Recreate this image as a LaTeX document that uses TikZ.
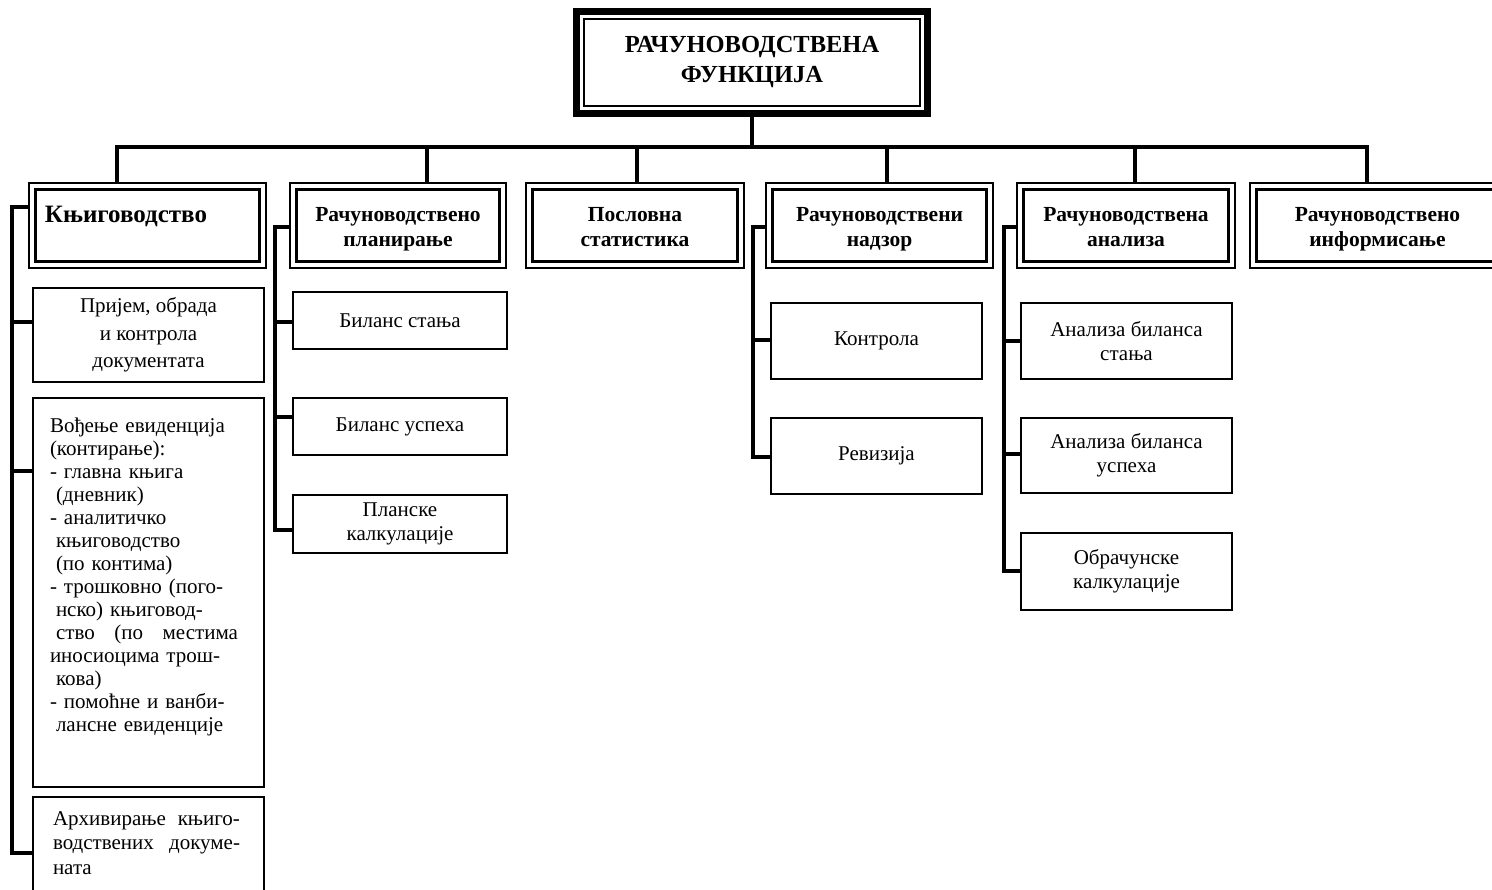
\documentclass[tikz,border=0pt]{standalone}
\usepackage{fontspec}
\setmainfont{Liberation Serif}
\newcommand{\hdrtext}[2]{\raisebox{-4pt}[\height][\depth]{\begin{tabular}{@{}c@{}}#1\\#2\end{tabular}}}
\begin{document}
\begin{tikzpicture}[x=1pt,y=-1pt,
  conn/.style={line width=3.2pt},
  titlebox/.style={draw, line width=7pt, inner sep=0pt,
    minimum width=351pt, minimum height=102pt, align=center,
    font=\fontsize{24.5}{30}\selectfont\bfseries,
    path picture={\draw[line width=1.8pt]
      ([shift={(7.5pt,-7.5pt)}]path picture bounding box.north west) rectangle
      ([shift={(-7.5pt,7.5pt)}]path picture bounding box.south east);}},
  hdr/.style={draw, line width=1.6pt, inner sep=0pt,
    minimum height=85pt, align=center,
    font=\fontsize{21.5}{25}\selectfont\bfseries,
    path picture={\draw[line width=3pt]
      ([shift={(6.5pt,-6.5pt)}]path picture bounding box.north west) rectangle
      ([shift={(-6.5pt,6.5pt)}]path picture bounding box.south east);}},
  item/.style={draw, line width=2.4pt, inner sep=0pt, align=center,
    font=\fontsize{21}{24}\selectfont},
]
\useasboundingbox (0,0) rectangle (1492,890);
\clip (0,0) rectangle (1492,890);
\fill[white] (0,0) rectangle (1492,890);

% top box
\node[titlebox] (root) at (752,62.5) {РАЧУНОВОДСТВЕНА\\ФУНКЦИЈА};

% second level
\node[hdr, minimum width=237pt, text width=205pt, align=left,
  font=\fontsize{25}{28}\selectfont\bfseries] (h1) at (147.5,225.5)
  {\raisebox{9pt}[\height][\depth]{Књиговодство}};
\node[hdr, minimum width=216pt] (h2) at (398,225.5) {\hdrtext{Рачуноводствено}{планирање}};
\node[hdr, minimum width=218pt] (h3) at (635,225.5) {\hdrtext{Пословна}{статистика}};
\node[hdr, minimum width=227pt] (h4) at (879.5,225.5) {\hdrtext{Рачуноводствени}{надзор}};
\node[hdr, minimum width=218pt] (h5) at (1126,225.5) {\hdrtext{Рачуноводствена}{анализа}};
\node[hdr, minimum width=255pt] (h6) at (1377.5,225.5) {\hdrtext{Рачуноводствено}{информисање}};

% bookkeeping
\node[item, minimum width=231pt, minimum height=94pt,
  font=\fontsize{21}{27.5}\selectfont] (k1) at (148.5,335)
  {Пријем, обрада\\и контрола\\документата};
\node[item, minimum width=231pt, minimum height=389pt, text width=197pt,
  align=left, font=\fontsize{21}{23}\selectfont] (k2) at (148.5,592.5)
  {\raisebox{16pt}[\height][\depth]{\parbox{197pt}{\raggedright
  Вођење евиденција\\
  (контирање):\\
  - главна књига\\
  \hspace*{6pt}(дневник)\\
  - аналитичко\\
  \hspace*{6pt}књиговодство\\
  \hspace*{6pt}(по контима)\\
  - трошковно (пого-\\
  \hspace*{6pt}нско) књиговод-\\
  \hspace*{6pt}\makebox[182pt][l]{ство\hfill(по\hfill местима}\\
  иносиоцима трош-\\
  \hspace*{6pt}кова)\\
  - помоћне и ванби-\\
  \hspace*{6pt}лансне евиденције}}};
\node[item, minimum width=231pt, minimum height=108pt, text width=191pt,
  align=left, font=\fontsize{21}{24.5}\selectfont] (k3) at (148.5,851)
  {\raisebox{8pt}[\height][\depth]{\parbox{191pt}{\raggedright
  \makebox[187pt][l]{Архивирање\hfill књиго-}\\
  \makebox[187pt][l]{водствених\hfill докуме-}\\
  ната}}};

% planning
\node[item, minimum width=214pt, minimum height=57pt] (p1) at (400,320.5) {Биланс стања};
\node[item, minimum width=214pt, minimum height=57pt] (p2) at (400,426.5) {Биланс успеха};
\node[item, minimum width=214pt, minimum height=58pt] (p3) at (400,524) {Планске\\калкулације};

% supervision
\node[item, minimum width=211pt, minimum height=76pt] (n1) at (876.5,341) {Контрола};
\node[item, minimum width=211pt, minimum height=76pt] (n2) at (876.5,456) {Ревизија};

% analysis
\node[item, minimum width=211pt, minimum height=76pt] (a1) at (1126.5,341) {Анализа биланса\\стања};
\node[item, minimum width=211pt, minimum height=75pt] (a2) at (1126.5,455.5) {Анализа биланса\\успеха};
\node[item, minimum width=211pt, minimum height=77pt] (a3) at (1126.5,571.5) {Обрачунске\\калкулације};

% main bus
\coordinate (bus) at (752,147);
\coordinate (d1) at ([xshift=-30.5pt]h1.north);
\coordinate (d2) at ([xshift=29pt]h2.north);
\coordinate (d3) at ([xshift=2pt]h3.north);
\coordinate (d4) at ([xshift=7.5pt]h4.north);
\coordinate (d5) at ([xshift=9pt]h5.north);
\coordinate (d6) at ([xshift=-10.5pt]h6.north);
\draw[conn] (root.south) -- (bus);
\draw[conn] (d1) |- (bus) -| (d6);
\foreach \d in {d2,d3,d4,d5} \draw[conn] (\d) -- (\d |- bus);

% bookkeeping trunk
\coordinate (kt) at (12,207);
\coordinate (kb) at (12,853);
\coordinate (k1s) at (12,322);
\coordinate (k2s) at (12,471);
\draw[conn] (kt -| h1.west) -- (kt) -- (kb) -- (kb -| k3.west);
\draw[conn] (k1s) -- (k1s -| k1.west);
\draw[conn] (k2s) -- (k2s -| k2.west);

% planning trunk
\coordinate (pt) at (275,227);
\coordinate (pb) at (275,530);
\coordinate (p1s) at (275,322);
\coordinate (p2s) at (275,417);
\draw[conn] (pt -| h2.west) -- (pt) -- (pb) -- (pb -| p3.west);
\draw[conn] (p1s) -- (p1s -| p1.west);
\draw[conn] (p2s) -- (p2s -| p2.west);

% supervision trunk
\coordinate (nt) at (753,227);
\coordinate (nb) at (753,457);
\coordinate (n1s) at (753,340);
\draw[conn] (nt -| h4.west) -- (nt) -- (nb) -- (nb -| n2.west);
\draw[conn] (n1s) -- (n1s -| n1.west);

% analysis trunk
\coordinate (at) at (1004,227);
\coordinate (ab) at (1004,571);
\coordinate (a1s) at (1004,341);
\coordinate (a2s) at (1004,454);
\draw[conn] (at -| h5.west) -- (at) -- (ab) -- (ab -| a3.west);
\draw[conn] (a1s) -- (a1s -| a1.west);
\draw[conn] (a2s) -- (a2s -| a2.west);
\end{tikzpicture}
\end{document}
